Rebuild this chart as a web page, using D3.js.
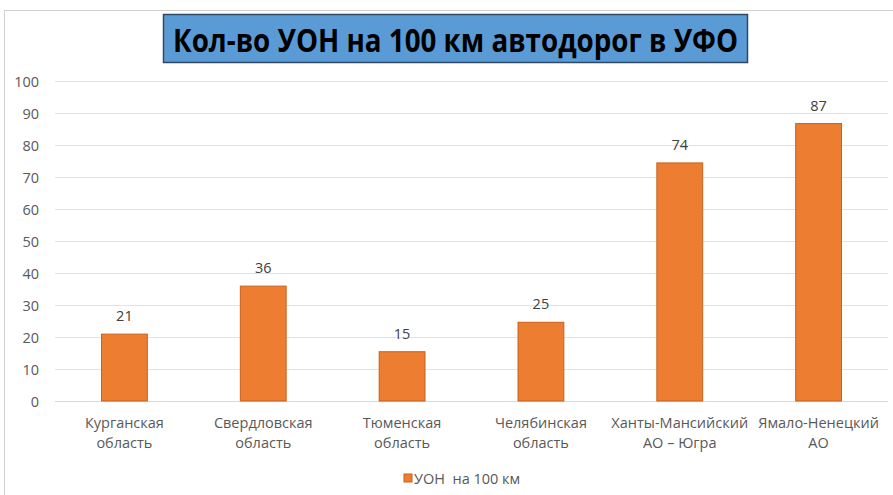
<!DOCTYPE html>
<html><head><meta charset="utf-8">
<script src="https://cdn.jsdelivr.net/npm/d3@7"></script>
<style>body{margin:0;background:#fff}svg{display:block}</style>
</head><body>
<script>
const categories = [["Курганская","область"],["Свердловская","область"],["Тюменская","область"],["Челябинская","область"],["Ханты-Мансийский","АО – Югра"],["Ямало-Ненецкий","АО"]];
const values = [20.9, 35.9, 15.4, 24.6, 74.4, 86.7];
const yTicks = [0,10,20,30,40,50,60,70,80,90,100];
const seriesName = "УОН  на 100 км";
const title = "Кол-во УОН на 100 км автодорог в УФО";

const W = 893, H = 495;
const svg = d3.select("body").append("svg").attr("width", W).attr("height", H);
const font = "'Open Sans', 'Liberation Sans', Arial, sans-serif";

svg.append("rect").attr("x",4.5).attr("y",10.5).attr("width",W).attr("height",H)
  .attr("fill","#fff").attr("stroke","#d0d0d0");

const x = d3.scaleBand().domain(d3.range(categories.length)).range([55, 888]).paddingInner(0.67).paddingOuter(0.335);
const y = d3.scaleLinear().domain([0,100]).range([401, 81]);

// grid
svg.append("g").selectAll("line").data(yTicks).join("line")
  .attr("x1",55).attr("x2",888).attr("y1",d=>y(d)+0.5).attr("y2",d=>y(d)+0.5)
  .attr("stroke",d=>d===0?"#d9d9d9":"#e3e3e3").attr("stroke-width",1);

const yAxis = svg.append("g").attr("transform","translate(39,0)")
  .call(d3.axisLeft(y).tickValues(yTicks).tickSize(0).tickPadding(0));
yAxis.select(".domain").remove();
yAxis.selectAll("text").attr("font-family",font).attr("font-size",14.5).attr("fill","#595959").attr("dy","0.35em");

// bars
svg.append("g").selectAll("rect").data(values).join("rect")
  .attr("x",(d,i)=>x(i)).attr("width",x.bandwidth())
  .attr("y",d=>y(d)).attr("height",d=>y(0)-y(d))
  .attr("fill","#ED7D31").attr("stroke","#C8611E").attr("stroke-width",1);

svg.append("g").selectAll("text").data(values).join("text")
  .attr("x",(d,i)=>x(i)+x.bandwidth()/2).attr("y",d=>y(d)-13)
  .attr("text-anchor","middle").attr("font-family",font).attr("font-size",14.5).attr("fill","#404040")
  .text(d=>d3.format(".0f")(d));

// category labels
const cl = svg.append("g").selectAll("text").data(categories).join("text")
  .attr("text-anchor","middle").attr("font-family",font).attr("font-size",14.5).attr("fill","#595959")
  .attr("x",(d,i)=>x(i)+x.bandwidth()/2).attr("y",428);
cl.selectAll("tspan").data(d=>d).join("tspan")
  .attr("x",function(){return this.parentNode.getAttribute("x");})
  .attr("dy",(d,i)=>i===0?0:20).text(d=>d);

// legend
svg.append("rect").attr("x",404).attr("y",474).attr("width",8).attr("height",8).attr("fill","#ED7D31").attr("stroke","#C8611E");
svg.append("text").attr("x",414).attr("y",484).attr("font-family",font).attr("font-size",14.5).attr("fill","#595959")
  .attr("xml:space","preserve").style("white-space","pre").text(seriesName);

// title
svg.append("rect").attr("x",163.5).attr("y",14.5).attr("width",584).attr("height",48)
  .attr("fill","#5B9BD5").attr("stroke","#2E4A66").attr("stroke-width",1.5);
svg.append("text").attr("x",455.5).attr("y",52).attr("text-anchor","middle")
  .attr("font-family",font).attr("font-weight","bold")
  .attr("font-size",32).attr("fill","#000")
  .attr("textLength",565).attr("lengthAdjust","spacingAndGlyphs").text(title);
</script>
</body></html>
